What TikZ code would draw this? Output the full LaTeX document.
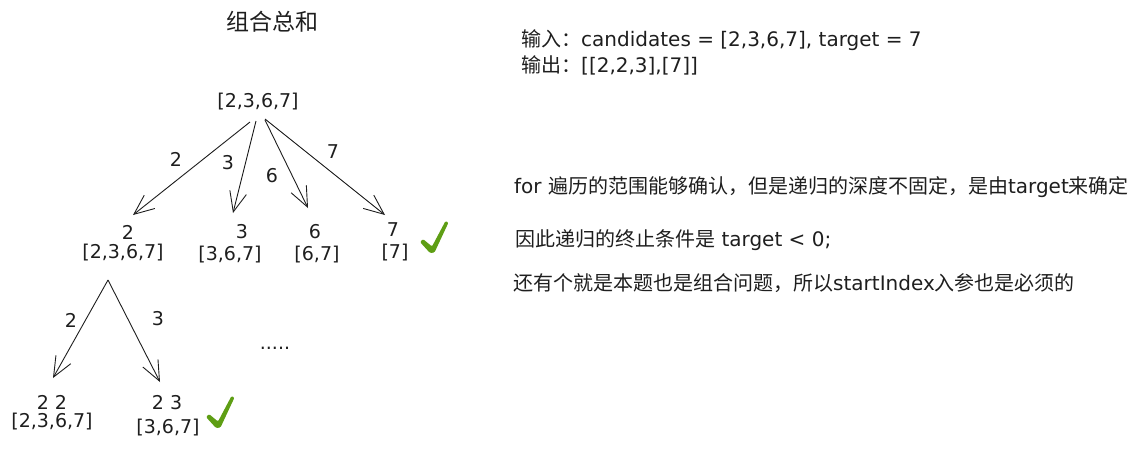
\documentclass[tikz,border=0pt]{standalone}
\usepackage{fontspec}
\setmainfont{DejaVu Sans}
\newfontfamily\cjk{Noto Sans CJK SC}
\usetikzlibrary{arrows.meta,calc}
\definecolor{ink}{HTML}{1E1E1E}
\definecolor{okgreen}{HTML}{5E9E14}
\tikzset{
  lbl/.style={font=\fontsize{19}{22}\selectfont, text=ink, inner sep=0pt},
  note/.style={font=\fontsize{20}{24}\selectfont, text=ink, inner sep=0pt, anchor=west},
  arr/.style={-{Straight Barb[length=20pt,width=17pt]}, line width=0.9pt, draw=ink},
  chk/.pic={\fill[okgreen, rounded corners=1.2pt] (-12,-10) -- (-9,-13) -- (0,-5.5) -- (13.5,-31) -- (16.5,-29.5) -- (2.5,0.5) -- (-2,1) -- cycle;}
}
\begin{document}
\begin{tikzpicture}[x=1pt,y=-1pt]
\useasboundingbox (0,0) rectangle (1146,451);
% title
\node[lbl, font=\fontsize{23}{26}\selectfont\cjk] (title) at (272,22) {组合总和};
% root
\node[lbl] (root) at (258,102) {[2,3,6,7]};
% level 2
\node[lbl] (s2) at (128,232) {2};
\node[lbl] (l2) at (123,253) {[2,3,6,7]};
\node[lbl] (s3) at (242,232) {3};
\node[lbl] (l3) at (230,255) {[3,6,7]};
\node[lbl] (s6) at (315,232) {6};
\node[lbl] (l6) at (317,255) {[6,7]};
\node[lbl] (s7) at (393,230) {7};
\node[lbl] (l7) at (395,253) {[7]};
% level 3
\node[lbl] (s22) at (52,402) {2 2};
\node[lbl] (l22) at (52,422) {[2,3,6,7]};
\node[lbl] (s23) at (167,403) {2 3};
\node[lbl] (l23) at (168,428) {[3,6,7]};
\node[lbl, anchor=base] (dots) at (275,349) {.....};
% edge labels
\node[lbl] (e2) at (176,159) {2};
\node[lbl] (e3) at (228,163) {3};
\node[lbl] (e6) at (272,176) {6};
\node[lbl] (e7) at (333,152) {7};
\node[lbl] (f2) at (71,320) {2};
\node[lbl] (f3) at (158,319) {3};
% arrows
\draw[arr] ($(root)+(-8,20)$) -- ($(s2)+(5,-17)$);
\draw[arr] ($(root)+(-2,19)$) -- ($(s3)+(-9,-19)$);
\draw[arr] ($(root)+(7,18)$) -- ($(s6)+(-7,-24)$);
\draw[arr] ($(root)+(7,17)$) -- ($(s7)+(-8,-15)$);
\draw[arr] ($(l2)+(-15,27)$) -- ($(s22)+(1,-24)$);
\draw[arr] ($(l2)+(-15,27)$) -- ($(s23)+(-7,-21)$);
% check marks
\pic (ok1) at (432,252) {chk};
\pic (ok2) at (218,427) {chk};
% notes
\node[note] (n1) at (521,40) {{\cjk 输入：}candidates = [2,3,6,7], target = 7};
\node[note] (n2) at (521,65) {{\cjk 输出：}[[2,2,3],[7]]};
\node[note] (n3) at (514,187) {for {\cjk 遍历的范围能够确认，但是递归的深度不固定，是由}target{\cjk 来确定}};
\node[note] (n4) at (515,240) {{\cjk 因此递归的终止条件是} target < 0;};
\node[note] (n5) at (513,283) {{\cjk 还有个就是本题也是组合问题，所以}startIndex{\cjk 入参也是必须的}};
\end{tikzpicture}
\end{document}
